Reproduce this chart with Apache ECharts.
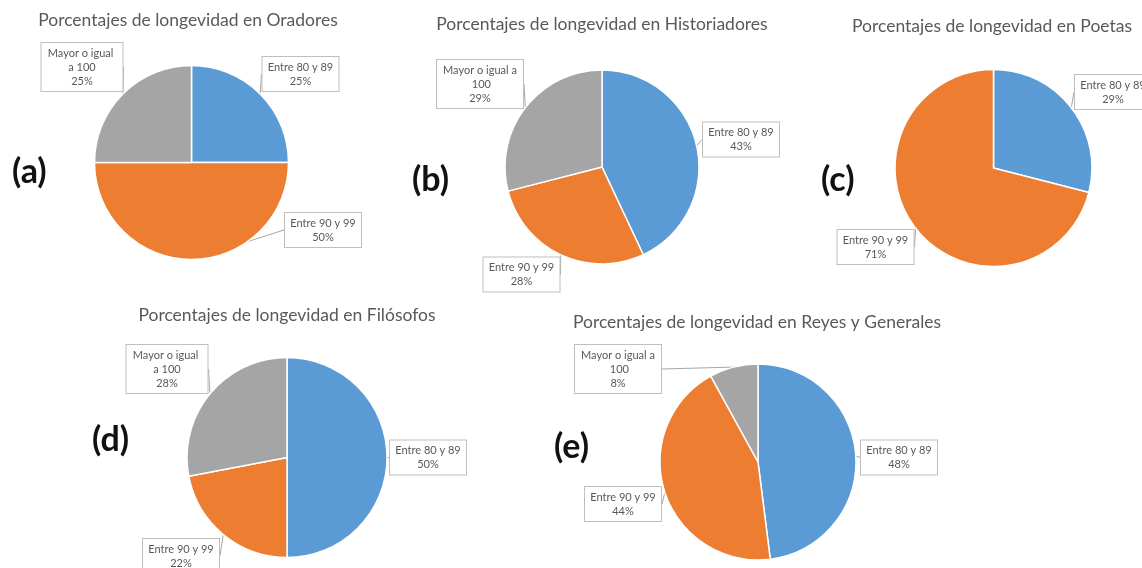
<!DOCTYPE html>
<html>
<head>
<meta charset="utf-8">
<script src="https://cdn.jsdelivr.net/npm/echarts@6/dist/echarts.min.js"></script>
<style>
  html, body { margin: 0; padding: 0; background: #ffffff; }
  #chart { width: 1142px; height: 568px; }
</style>
</head>
<body>
<div id="chart"></div>
<script>
// Age bands (slice categories)
const categories = ['Entre 80 y 89', 'Entre 90 y 99', 'Mayor o igual a 100'];

// Groups shown, one pie each
const groups = ['Oradores', 'Historiadores', 'Poetas', 'Filósofos', 'Reyes y Generales'];
const panelTags = ['(a)', '(b)', '(c)', '(d)', '(e)'];
const titlePrefix = 'Porcentajes de longevidad en ';

// Share of each age band per group (%)
const oradores = [25, 50, 25];
const historiadores = [43, 28, 29];
const poetas = [29, 71, 0];
const filosofos = [50, 22, 28];
const reyes = [48, 44, 8];
const values = [oradores, historiadores, poetas, filosofos, reyes];

const sliceColors = ['#5B9BD5', '#ED7D31', '#A5A5A5'];
const textFont = 'Lato, "Open Sans", sans-serif';

// Placement of each pie, its title, its tag and its data labels (label box centres)
const panels = [
  { center: [191.5, 162.5], r: 97, title: [188, 20], tag: [12, 172], wrap: 71,
    labels: [[300.5, 74], [323, 230], [82, 67]] },
  { center: [602, 167], r: 97, title: [602, 24], tag: [412, 180], wrap: 76,
    labels: [[741, 139.5], [521.5, 274.5], [480, 84]] },
  { center: [993.5, 168], r: 98.5, title: [992, 26], tag: [821, 180], wrap: 71,
    labels: [[1113, 92], [875.5, 247], [0, 0]] },
  { center: [287, 457.5], r: 100, title: [287, 315], tag: [92, 440], wrap: 71,
    labels: [[428, 457.5], [181, 556], [167, 369]] },
  { center: [758, 462], r: 98, title: [757, 322], tag: [554, 447], wrap: 76,
    labels: [[899, 457.5], [623, 504], [618, 369]] }
];

const graphics = [];
panels.forEach((p, i) => {
  graphics.push({
    type: 'text', x: p.title[0], y: p.title[1], silent: true,
    style: {
      text: titlePrefix + groups[i], fill: '#595959',
      font: '17.5px ' + textFont, align: 'center', verticalAlign: 'middle'
    }
  });
  graphics.push({
    type: 'text', x: p.tag[0], y: p.tag[1], silent: true,
    style: {
      text: panelTags[i], fill: '#111111',
      font: 'bold 34px ' + textFont, align: 'left', verticalAlign: 'middle'
    }
  });
});

const series = values.map((vals, i) => {
  const p = panels[i];
  return {
    type: 'pie',
    left: 0, top: 0, width: 3000, height: 3000,
    center: p.center,
    radius: p.r,
    startAngle: 90,
    clockwise: true,
    avoidLabelOverlap: false,
    percentPrecision: 0,
    animation: false,
    silent: true,
    itemStyle: { borderColor: '#ffffff', borderWidth: 1.5 },
    label: {
      show: true,
      position: 'outside',
      formatter: '{b}\n{d}%',
      fontFamily: textFont,
      fontSize: 11,
      lineHeight: 14,
      color: '#595959',
      align: 'center',
      backgroundColor: '#ffffff',
      borderColor: '#BFBFBF',
      borderWidth: 1,
      padding: [3, 5, 3, 5],
      overflow: 'break'
    },
    labelLine: {
      show: true,
      length: 8,
      length2: 0,
      lineStyle: { color: '#A6A6A6', width: 1 }
    },
    labelLayout: (params) => {
      const pos = p.labels[params.dataIndex];
      return { x: pos[0], y: pos[1], align: 'center', verticalAlign: 'middle' };
    },
    data: categories
      .map((name, k) => ({
        name: name,
        value: vals[k],
        itemStyle: { color: sliceColors[k] },
        label: { width: k === 2 ? p.wrap : 66 }
      }))
      .filter(d => d.value > 0)
  };
});

const chart = echarts.init(document.getElementById('chart'), null, { renderer: 'canvas' });
chart.setOption({
  backgroundColor: '#ffffff',
  animation: false,
  graphic: graphics,
  series: series
});
</script>
</body>
</html>
